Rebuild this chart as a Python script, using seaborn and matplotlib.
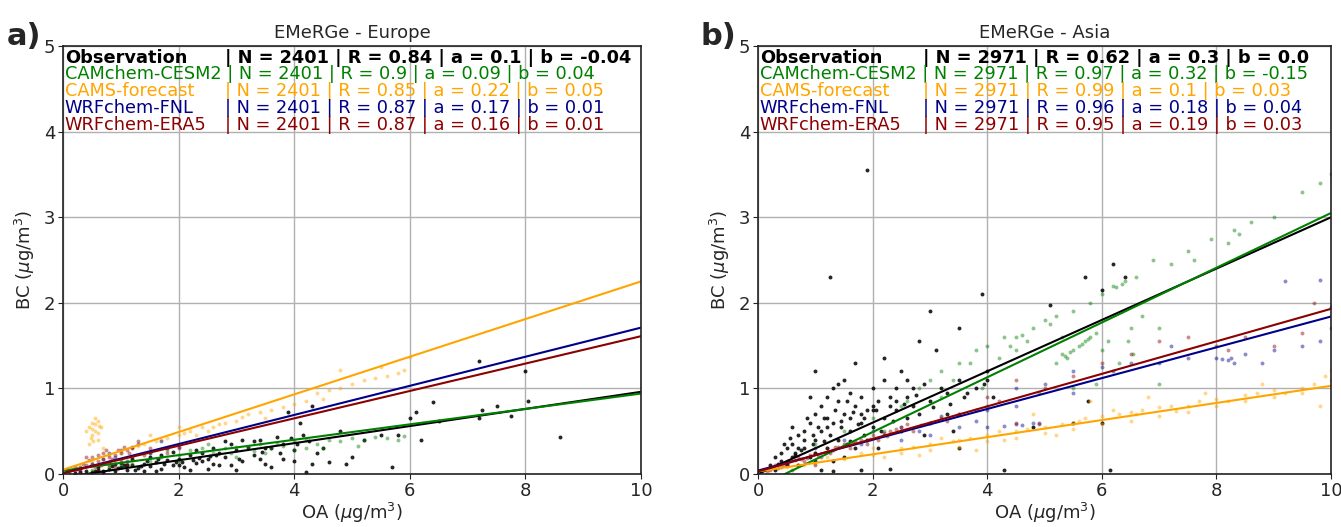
import numpy as np
import pandas as pd
import matplotlib
matplotlib.use("Agg")
import matplotlib.pyplot as plt
import seaborn as sns

# %%
# ---- data ----

models = ["Observation", "CAMchem-CESM2", "CAMS-forecast", "WRFchem-FNL", "WRFchem-ERA5"]
model_colors = ["black", "green", "orange", "darkblue", "darkred"]

# Europe: N, R, slope a, intercept b
eu_N = [2401, 2401, 2401, 2401, 2401]
eu_R = [0.84, 0.9, 0.85, 0.87, 0.87]
eu_a = [0.1, 0.09, 0.22, 0.17, 0.16]
eu_b = [-0.04, 0.04, 0.05, 0.01, 0.01]

# Asia
as_N = [2971, 2971, 2971, 2971, 2971]
as_R = [0.62, 0.97, 0.99, 0.96, 0.95]
as_a = [0.3, 0.32, 0.1, 0.18, 0.19]
as_b = [0.0, -0.15, 0.03, 0.04, 0.03]

# scatter points (OA, BC)
eu_obs_x = [0.2, 0.3, 0.4, 0.5, 0.6, 0.7, 0.8, 0.9, 1.0, 1.1, 1.2, 1.3, 1.4, 1.5, 1.6, 1.7, 1.8, 1.9, 2.0, 2.1,
            2.2, 2.3, 2.4, 2.5, 2.6, 2.7, 2.8, 2.9, 3.0, 3.1, 3.2, 3.3, 3.4, 3.5, 3.6, 3.7, 3.8, 3.9, 4.0, 4.05,
            4.1, 4.15, 4.2, 4.3, 4.4, 4.6, 4.8, 4.9, 5.0, 5.2, 5.5, 5.7, 5.8, 6.0, 6.1, 6.2, 6.4, 6.5, 7.2, 7.2,
            7.25, 7.5, 7.75, 8.0, 8.05, 8.6, 1.5, 1.2, 0.9, 2.2, 2.6, 3.0, 3.6, 3.3, 2.8, 1.9, 0.6, 1.0, 1.4, 1.7,
            2.0, 2.3, 2.5, 2.7, 3.1, 3.4, 3.8, 4.0, 4.3, 0.7, 1.1, 1.6, 2.4, 2.9, 3.5, 4.5, 0.85, 1.25, 1.45, 1.75,
            2.05, 2.35, 2.65, 3.05, 3.45, 3.75, 1.05, 1.35, 1.65, 1.95, 2.25, 2.55, 0.55, 0.95, 3.95, 4.25]
eu_obs_y = [0.01, 0.02, 0.03, 0.02, 0.05, 0.04, 0.06, 0.03, 0.08, 0.05, 0.10, 0.07, 0.12, 0.09, 0.14, 0.06, 0.16, 0.11, 0.18, 0.08,
            0.22, 0.13, 0.25, 0.17, 0.30, 0.10, 0.20, 0.35, 0.28, 0.15, 0.32, 0.22, 0.40, 0.12, 0.30, 0.43, 0.18, 0.72, 0.15, 0.35,
            0.60, 0.45, 0.02, 0.80, 0.25, 0.14, 0.50, 0.12, 0.20, 0.40, 0.45, 0.08, 0.45, 0.65, 0.72, 0.40, 0.84, 0.62, 1.32, 0.65,
            0.75, 0.80, 0.68, 1.20, 0.85, 0.43, 0.20, 0.17, 0.12, 0.05, 0.12, 0.05, 0.08, 0.38, 0.38, 0.26, 0.08, 0.13, 0.04, 0.22,
            0.10, 0.28, 0.06, 0.25, 0.40, 0.18, 0.35, 0.28, 0.12, 0.02, 0.10, 0.03, 0.15, 0.10, 0.30, 0.30, 0.09, 0.05, 0.15, 0.12,
            0.14, 0.19, 0.22, 0.18, 0.26, 0.24, 0.11, 0.09, 0.17, 0.14, 0.16, 0.21, 0.04, 0.07, 0.42, 0.38]

eu_cesm_x = [0.5, 0.8, 1.0, 1.2, 1.5, 1.7, 2.0, 2.2, 2.4, 2.6, 2.8, 3.0, 3.2, 3.4, 3.6, 3.8, 4.0, 4.2, 4.4, 4.6,
             4.8, 5.0, 5.2, 5.4, 5.6, 5.8, 5.9, 4.5, 3.0, 2.0, 4.0, 3.5, 1.5, 1.8, 2.5, 4.2, 2.9, 3.3, 3.7, 5.1]
eu_cesm_y = [0.05, 0.08, 0.10, 0.12, 0.15, 0.20, 0.22, 0.28, 0.30, 0.25, 0.30, 0.32, 0.30, 0.35, 0.30, 0.33, 0.38, 0.40, 0.35, 0.40,
             0.38, 0.42, 0.40, 0.43, 0.42, 0.40, 0.44, 0.30, 0.20, 0.15, 0.28, 0.25, 0.25, 0.28, 0.35, 0.30, 0.24, 0.27, 0.36, 0.33]

eu_cams_x = [0.45, 0.5, 0.55, 0.6, 0.5, 0.55, 0.6, 0.45, 0.65, 0.5, 0.4, 0.6, 0.7, 0.3, 0.5, 0.8, 1.0, 1.2, 1.4, 1.6,
             1.8, 2.0, 2.2, 2.4, 2.6, 2.8, 3.0, 3.2, 3.4, 3.6, 3.8, 4.0, 4.2, 4.4, 4.6, 4.8, 5.0, 5.2, 5.4, 5.6,
             5.8, 5.9, 4.8, 5.5, 6.0, 2.0, 2.5, 1.5, 3.5, 4.5, 0.55, 0.48, 0.62, 0.52, 1.3, 1.7, 2.1, 2.3, 2.7, 3.1]
eu_cams_y = [0.55, 0.60, 0.50, 0.62, 0.45, 0.58, 0.40, 0.35, 0.55, 0.52, 0.50, 0.48, 0.30, 0.08, 0.15, 0.22, 0.25, 0.30, 0.35, 0.38,
             0.42, 0.45, 0.50, 0.55, 0.55, 0.60, 0.62, 0.70, 0.72, 0.75, 0.78, 0.82, 0.85, 0.95, 0.98, 1.00, 1.05, 1.10, 1.12, 1.15,
             1.18, 1.22, 1.22, 1.25, 1.37, 0.55, 0.50, 0.45, 0.65, 0.88, 0.65, 0.42, 0.56, 0.38, 0.33, 0.40, 0.48, 0.46, 0.58, 0.66]

eu_fnl_x = [1.3, 0.8, 1.0, 1.2, 0.5, 1.5, 1.8, 2.0, 1.7, 0.7, 0.9, 1.1, 0.3, 0.6]
eu_fnl_y = [0.35, 0.25, 0.28, 0.32, 0.12, 0.25, 0.30, 0.32, 0.38, 0.18, 0.20, 0.15, 0.06, 0.10]

eu_era5_x = [0.1, 0.2, 0.3, 0.4, 0.5, 0.6, 0.7, 0.8, 0.9, 1.0, 1.1, 1.2, 0.5, 0.6, 0.8, 1.0, 1.3, 1.5, 1.8, 2.0,
             0.4, 0.7, 0.9, 1.2, 0.3, 0.6, 0.8, 1.1, 0.2, 0.45, 0.75, 1.05, 0.35, 0.65, 0.85, 0.95, 1.15, 0.25, 0.55, 1.4]
eu_era5_y = [0.02, 0.05, 0.08, 0.10, 0.12, 0.15, 0.18, 0.20, 0.22, 0.25, 0.28, 0.30, 0.20, 0.05, 0.10, 0.15, 0.38, 0.30, 0.25, 0.30,
             0.20, 0.25, 0.08, 0.20, 0.03, 0.22, 0.14, 0.12, 0.08, 0.16, 0.28, 0.32, 0.12, 0.11, 0.17, 0.28, 0.24, 0.06, 0.08, 0.22]

as_obs_x = [0.2, 0.3, 0.4, 0.5, 0.5, 0.6, 0.6, 0.7, 0.7, 0.8, 0.8, 0.9, 0.9, 1.0, 1.0, 1.0, 1.1, 1.1, 1.2, 1.2,
            1.3, 1.3, 1.4, 1.4, 1.4, 1.5, 1.5, 1.6, 1.6, 1.7, 1.7, 1.8, 1.8, 1.9, 1.9, 2.0, 2.0, 2.1, 2.1, 2.2,
            2.2, 2.3, 2.4, 2.5, 2.5, 2.6, 2.7, 2.8, 2.9, 3.0, 3.2, 3.3, 3.5, 3.6, 3.8, 4.0, 4.1, 3.4, 2.9, 1.1,
            0.9, 0.6, 1.5, 1.3, 1.9, 1.25, 3.9, 3.0, 1.0, 1.7, 2.2, 3.5, 2.8, 3.1, 4.0, 5.1, 5.7, 6.0, 6.2, 6.4,
            5.75, 4.3, 6.15, 1.3, 2.3, 1.8, 3.5, 5.5, 6.0, 4.8, 1.8, 2.4, 2.6, 0.4, 0.8, 1.2, 1.6, 2.0, 2.4, 0.3,
            0.65, 1.45, 1.85, 2.3, 2.7, 3.3, 0.95, 1.15, 1.55, 2.15, 0.45, 0.55, 0.75, 0.85, 1.05, 1.15, 1.35, 1.45, 1.65, 1.75,
            0.35, 0.65, 0.95, 1.25, 1.55, 1.85, 2.05, 2.35, 2.55, 2.75, 3.05, 3.35, 3.65, 3.95, 0.7, 1.0, 1.2, 1.6, 2.0, 2.6]
as_obs_y = [0.10, 0.20, 0.15, 0.30, 0.10, 0.35, 0.20, 0.45, 0.10, 0.50, 0.30, 0.60, 0.20, 0.70, 0.40, 0.15, 0.80, 0.50, 0.90, 0.30,
            1.00, 0.60, 0.85, 0.40, 1.05, 0.70, 0.20, 0.95, 0.50, 0.80, 0.30, 0.90, 0.60, 0.75, 0.40, 1.00, 0.55, 0.85, 0.30, 1.10,
            0.65, 0.90, 0.75, 1.20, 0.50, 0.90, 1.00, 0.70, 1.05, 0.85, 1.00, 0.70, 1.10, 0.90, 1.00, 1.10, 0.90, 0.50, 0.45, 0.05,
            0.90, 0.55, 1.10, 0.15, 3.55, 2.30, 2.10, 1.90, 1.20, 1.30, 1.35, 1.70, 1.55, 1.45, 1.20, 1.98, 2.30, 2.15, 2.45, 2.30,
            0.85, 0.05, 0.05, 0.04, 0.06, 0.05, 0.30, 0.60, 0.60, 0.55, 0.70, 1.00, 1.10, 0.25, 0.40, 0.55, 0.65, 0.75, 0.85, 0.05,
            0.25, 0.55, 0.45, 0.80, 0.80, 0.95, 0.45, 0.65, 0.35, 0.50, 0.35, 0.42, 0.28, 0.65, 0.55, 0.38, 0.75, 0.62, 0.72, 0.58,
            0.12, 0.22, 0.35, 0.45, 0.85, 0.65, 0.75, 0.62, 0.82, 0.92, 0.78, 0.82, 0.95, 1.05, 0.30, 0.25, 0.65, 0.38, 0.80, 0.65]

as_cesm_x = [0.5, 1.0, 1.5, 2.0, 2.5, 2.8, 3.0, 3.2, 3.5, 3.8, 4.0, 4.2, 4.5, 4.5, 4.7, 4.8, 5.0, 5.2, 5.3, 5.4,
             5.5, 5.6, 5.7, 5.8, 5.9, 5.2, 5.3, 5.5, 5.8, 6.0, 6.2, 6.4, 6.6, 6.5, 6.3, 6.9, 7.0, 7.2, 7.5, 7.9,
             8.3, 8.6, 9.0, 9.5, 9.8, 10.0, 8.4, 8.2, 7.6, 3.7, 4.3, 3.9, 4.9, 6.7, 6.0, 6.1, 3.2, 2.2, 4.0, 5.5,
             5.9, 7.0, 5.35, 5.45, 5.65, 5.75, 5.1, 4.6, 4.4, 6.25, 6.35, 6.45, 6.55, 2.6, 3.4]
as_cesm_y = [0.15, 0.35, 0.50, 0.65, 0.80, 1.00, 1.10, 1.20, 1.30, 1.45, 1.50, 1.35, 1.45, 1.60, 1.55, 1.70, 1.80, 1.85, 1.40, 1.35,
             1.45, 1.50, 1.55, 1.60, 1.65, 1.30, 1.60, 1.90, 2.00, 2.10, 2.20, 2.25, 2.30, 1.70, 1.30, 2.50, 1.70, 2.45, 2.60, 2.75,
             2.85, 2.95, 3.00, 3.30, 3.40, 3.50, 2.80, 2.70, 2.50, 1.30, 1.60, 1.00, 0.95, 1.85, 1.45, 1.55, 0.90, 0.50, 0.80, 1.00,
             1.05, 1.05, 1.38, 1.42, 1.52, 1.58, 1.75, 1.62, 1.50, 2.18, 2.22, 1.55, 1.40, 0.85, 1.10]

as_cams_x = [0.5, 1.0, 1.5, 2.0, 2.0, 2.5, 2.5, 3.0, 3.0, 3.5, 3.5, 4.0, 4.0, 4.5, 4.5, 5.0, 5.0, 5.5, 5.5, 6.0,
             6.0, 6.5, 6.5, 7.0, 7.0, 7.5, 7.5, 8.0, 8.0, 8.5, 8.5, 9.0, 9.0, 9.5, 9.5, 10.0, 10.0, 9.9, 5.8, 6.8,
             4.8, 3.8, 9.8, 1.2, 2.8, 7.8, 8.8, 5.2, 6.2, 3.2, 0.8, 1.8, 2.2, 3.4, 4.2, 5.6, 6.6, 7.2, 8.2, 9.2,
             2.7, 3.7, 4.7, 5.7, 6.7, 7.7, 8.7, 9.7, 4.3, 5.3, 6.3, 7.3]
as_cams_y = [0.08, 0.12, 0.18, 0.22, 0.30, 0.30, 0.25, 0.35, 0.28, 0.40, 0.32, 0.45, 0.38, 0.50, 0.42, 0.55, 0.48, 0.60, 0.52, 0.68,
             0.58, 0.72, 0.62, 0.78, 0.68, 0.80, 0.72, 0.88, 0.80, 0.92, 0.85, 0.98, 0.90, 1.00, 0.95, 1.10, 1.22, 1.15, 0.85, 0.90,
             0.70, 0.28, 0.80, 0.20, 0.22, 0.95, 1.05, 0.45, 0.75, 0.42, 0.10, 0.25, 0.20, 0.38, 0.50, 0.62, 0.70, 0.80, 0.85, 0.95,
             0.32, 0.42, 0.52, 0.65, 0.75, 0.85, 0.95, 1.05, 0.40, 0.58, 0.70, 0.74]

as_fnl_x = [1.0, 1.5, 2.0, 2.5, 3.0, 3.5, 4.0, 4.5, 4.5, 5.0, 4.0, 4.5, 4.8, 3.5, 3.0, 5.5, 6.0, 6.5, 7.0, 7.2,
            7.5, 8.0, 8.2, 8.3, 8.5, 9.0, 9.5, 9.8, 9.2, 9.8, 10.0, 8.8, 5.5, 6.2, 2.5, 0.5, 1.8, 2.8, 3.8, 4.3,
            4.6, 4.9, 8.1, 8.25, 3.2, 2.2]
as_fnl_y = [0.30, 0.40, 0.50, 0.55, 0.60, 0.70, 0.75, 0.80, 1.00, 1.05, 0.55, 0.58, 0.60, 0.55, 0.45, 1.20, 1.25, 1.30, 1.30, 1.50,
            1.35, 1.35, 1.33, 1.30, 1.40, 1.45, 1.50, 1.55, 2.25, 2.27, 1.95, 1.30, 0.95, 1.20, 0.40, 0.12, 0.35, 0.50, 0.62, 0.56,
            0.57, 0.59, 1.34, 1.36, 0.68, 0.45]

as_era5_x = [0.3, 0.5, 0.7, 0.8, 1.0, 1.1, 1.2, 1.3, 1.5, 1.6, 1.8, 2.0, 2.1, 2.3, 2.5, 2.7, 3.0, 3.2, 3.5, 3.8,
             4.0, 4.2, 4.5, 5.0, 5.5, 6.0, 6.5, 7.0, 7.5, 8.0, 8.2, 8.5, 9.0, 9.5, 10.0, 9.7, 4.5, 4.9, 1.0, 0.6,
             0.2, 0.4, 0.9, 1.4, 1.7, 2.2, 2.6, 0.15, 0.35, 0.55, 0.75, 1.25, 1.9, 2.4, 0.45, 0.65, 0.85, 1.05, 1.35, 1.65,
             1.95, 2.25, 2.85, 3.3]
as_era5_y = [0.10, 0.12, 0.20, 0.15, 0.25, 0.20, 0.30, 0.28, 0.35, 0.30, 0.40, 0.45, 0.40, 0.50, 0.55, 0.50, 0.60, 0.65, 0.70, 0.75,
             0.90, 0.85, 1.10, 1.00, 1.15, 1.30, 1.40, 1.55, 1.60, 1.50, 1.45, 1.60, 1.50, 1.65, 1.70, 2.00, 0.60, 0.58, 0.10, 0.05,
             0.05, 0.08, 0.22, 0.32, 0.38, 0.48, 0.58, 0.03, 0.07, 0.15, 0.17, 0.25, 0.35, 0.52, 0.11, 0.16, 0.19, 0.22, 0.31, 0.36,
             0.41, 0.44, 0.57, 0.62]

eu_points = [(eu_obs_x, eu_obs_y), (eu_cesm_x, eu_cesm_y), (eu_cams_x, eu_cams_y), (eu_fnl_x, eu_fnl_y), (eu_era5_x, eu_era5_y)]
as_points = [(as_obs_x, as_obs_y), (as_cesm_x, as_cesm_y), (as_cams_x, as_cams_y), (as_fnl_x, as_fnl_y), (as_era5_x, as_era5_y)]

# %%
sns.set_style("ticks", {"axes.grid": True, "grid.color": "#b0b0b0", "axes.edgecolor": "#222222"})
plt.rcParams['font.family'] = ['DejaVu Sans']
plt.rcParams['font.size'] = 13

fig = plt.figure(figsize=(13.41, 5.27), dpi=100)
ax_eu = fig.add_axes([0.047, 0.1006, 0.431, 0.812])
ax_as = fig.add_axes([0.5653, 0.1006, 0.4273, 0.812])


def draw_panel(ax, title, points, N, R, a, b, pipe_x):
    # scatter first, fit lines on top
    for (px, py), name, col in zip(points, models, model_colors):
        df = pd.DataFrame({'OA': px, 'BC': py})
        alpha = 0.85 if name == "Observation" else 0.45
        sns.scatterplot(data=df, x='OA', y='BC', ax=ax, color=col, s=8, linewidth=0, alpha=alpha)
    xs = np.array([0, 10])
    for name, col, aa, bb in zip(models, model_colors, a, b):
        sns.lineplot(x=xs, y=aa * xs + bb, ax=ax, color=col, linewidth=1.5)

    ax.set_xlim(0, 10)
    ax.set_ylim(0, 5)
    ax.set_xticks([0, 2, 4, 6, 8, 10])
    ax.set_yticks([0, 1, 2, 3, 4, 5])
    ax.tick_params(labelsize=13, length=3.5, pad=2, color="#222222")
    ax.grid(True, color="#b0b0b0", linewidth=1)
    for sp in ax.spines.values():
        sp.set_linewidth(1.2)
    ax.set_xlabel('OA ($\\mu$g/m$^3$)', fontsize=13, labelpad=1)
    ax.set_ylabel('BC ($\\mu$g/m$^3$)', fontsize=13, labelpad=5)
    ax.set_title(title, fontsize=13, pad=6)

    ys = [0.972, 0.934, 0.895, 0.855, 0.816]
    for i, (name, col) in enumerate(zip(models, model_colors)):
        weight = 'bold' if i == 0 else 'normal'
        rest = f"| N = {N[i]} | R = {R[i]} | a = {a[i]} | b = {b[i]}"
        if name == "CAMchem-CESM2":
            ax.text(0.003, ys[i], f"{name} {rest}", transform=ax.transAxes, color=col,
                    fontsize=12.8, va='center', ha='left', fontweight=weight)
        else:
            ax.text(0.003, ys[i], name, transform=ax.transAxes, color=col,
                    fontsize=12.8, va='center', ha='left', fontweight=weight)
            ax.text(pipe_x, ys[i], rest, transform=ax.transAxes, color=col,
                    fontsize=12.8, va='center', ha='left', fontweight=weight)


draw_panel(ax_eu, 'EMeRGe - Europe', eu_points, eu_N, eu_R, eu_a, eu_b, 0.281)
draw_panel(ax_as, 'EMeRGe - Asia', as_points, as_N, as_R, as_a, as_b, 0.287)

fig.text(0.005, 0.915, 'a)', fontsize=22, fontweight='bold')
fig.text(0.522, 0.915, 'b)', fontsize=22, fontweight='bold')

fig.savefig('out.png', dpi=100)
